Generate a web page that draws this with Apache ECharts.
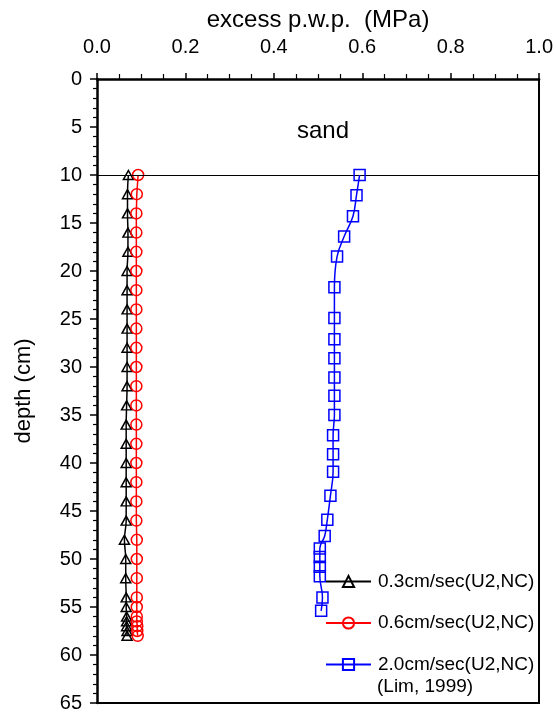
<!DOCTYPE html>
<html>
<head>
<meta charset="utf-8">
<script src="https://cdn.jsdelivr.net/npm/echarts@6/dist/echarts.min.js"></script>
<style>html,body{margin:0;padding:0;background:#fff;}#c{width:556px;height:713px;}</style>
</head>
<body>
<div id="c"></div>
<script>
const xTicks = [0, 0.2, 0.4, 0.6, 0.8, 1.0];
const yTicks = [0, 5, 10, 15, 20, 25, 30, 35, 40, 45, 50, 55, 60, 65];
const seriesNames = ['0.3cm/sec(U2,NC)', '0.6cm/sec(U2,NC)', '2.0cm/sec(U2,NC)'];

const depthBlack = [10,12,14,16,18,20,22,24,26,28,30,32,34,36,38,40,42,44,46,48,50,52,54,55,56,56.5,57,57.5,58];
const pwpBlack   = [0.071,0.069,0.069,0.07,0.07,0.068,0.068,0.068,0.068,0.068,0.068,0.068,0.067,0.066,0.066,0.066,0.066,0.066,0.066,0.062,0.065,0.065,0.066,0.066,0.067,0.067,0.067,0.068,0.068];

const depthRed = [10,12,14,16,18,20,22,24,26,28,30,32,34,36,38,40,42,44,46,48,50,52,54,55,56,56.5,57,57.5,58];
const pwpRed   = [0.093,0.09,0.089,0.089,0.089,0.089,0.089,0.089,0.089,0.089,0.089,0.089,0.089,0.089,0.089,0.089,0.089,0.089,0.089,0.09,0.09,0.09,0.09,0.09,0.09,0.09,0.091,0.091,0.092];

const depthBlue = [10,12.1,14.3,16.4,18.5,21.7,24.9,27.1,29.1,31.1,33,35,37.1,39.1,40.9,43.4,45.9,47.6,48.9,49.8,50.8,51.8,54,55.4];
const pwpBlue   = [0.594,0.587,0.579,0.559,0.543,0.537,0.537,0.537,0.537,0.537,0.537,0.537,0.534,0.534,0.534,0.528,0.521,0.515,0.504,0.504,0.504,0.504,0.51,0.507];

const zip = (xs, ys) => xs.map((x, i) => [x, ys[i]]);
const FONT = "'Liberation Sans', Arial, sans-serif";

const chart = echarts.init(document.getElementById('c'), null, {renderer: 'canvas'});
chart.setOption({
  animation: false,
  backgroundColor: '#fff',
  textStyle: {fontFamily: FONT, color: '#000'},
  grid: {left: 97, right: 13, top: 79, bottom: 10, containLabel: false},
  title: {
    text: 'sand', left: 292, top: 114,
    textStyle: {fontFamily: FONT, fontSize: 24, fontWeight: 'normal', color: '#000'}
  },
  xAxis: [{
    type: 'value', position: 'top', min: 0, max: 1, interval: 0.2,
    name: 'excess p.w.p.  (MPa)', nameLocation: 'middle', nameGap: 46,
    nameTextStyle: {fontFamily: FONT, fontSize: 24, color: '#000'},
    axisLine: {show: true, onZero: false, lineStyle: {color: '#000', width: 2.5}},
    axisTick: {show: true, inside: false, length: 6, lineStyle: {color: '#000', width: 1.5}},
    minorTick: {show: true, splitNumber: 4, length: 5, lineStyle: {color: '#000', width: 1.2}},
    axisLabel: {fontFamily: FONT, fontSize: 20, color: '#000', margin: 22,
      formatter: v => xTicks.includes(+v.toFixed(1)) ? v.toFixed(1) : ''},
    splitLine: {show: false}
  }, {
    type: 'value', position: 'bottom', min: 0, max: 1,
    axisLine: {show: true, onZero: false, lineStyle: {color: '#000', width: 2}},
    axisTick: {show: false}, axisLabel: {show: false}, splitLine: {show: false}
  }],
  yAxis: [{
    type: 'value', inverse: true, min: 0, max: 65, interval: 5, position: 'left',
    name: 'depth (cm)', nameLocation: 'middle', nameGap: 62, nameRotate: 90,
    nameTextStyle: {fontFamily: FONT, fontSize: 22, color: '#000'},
    axisLine: {show: true, onZero: false, lineStyle: {color: '#000', width: 2.5}},
    axisTick: {show: true, inside: false, length: 7, lineStyle: {color: '#000', width: 1.5}},
    minorTick: {show: true, splitNumber: 5, length: 4, lineStyle: {color: '#000', width: 1.2}},
    axisLabel: {fontFamily: FONT, fontSize: 20, color: '#000', margin: 15,
      formatter: v => yTicks.includes(v) ? String(v) : ''},
    splitLine: {show: false}
  }, {
    type: 'value', inverse: true, min: 0, max: 65, position: 'right',
    axisLine: {show: true, onZero: false, lineStyle: {color: '#000', width: 2}},
    axisTick: {show: false}, axisLabel: {show: false}, splitLine: {show: false}
  }],
  legend: {
    orient: 'vertical', left: 325, top: 572, padding: 0,
    itemWidth: 45, itemHeight: 14, itemGap: 22.5,
    textStyle: {fontFamily: FONT, fontSize: 19, color: '#000', padding: [0, 0, 0, 2]},
    data: seriesNames
  },
  graphic: [{
    type: 'text', left: 377, top: 677,
    style: {text: '(Lim, 1999)', font: "19px 'Liberation Sans', Arial, sans-serif", fill: '#000'}
  }],
  series: [{
    name: seriesNames[0], type: 'line', smooth: 0.4,
    data: zip(pwpBlack, depthBlack),
    symbol: 'triangle', symbolSize: [10, 9],
    lineStyle: {color: '#000', width: 1.5},
    itemStyle: {color: 'rgba(255,255,255,0)', borderColor: '#000', borderWidth: 1.5},
    markLine: {
      silent: true, symbol: 'none', label: {show: false},
      lineStyle: {color: '#000', width: 1, type: 'solid'},
      data: [{yAxis: 10}]
    },
    z: 3
  }, {
    name: seriesNames[1], type: 'line', smooth: false,
    data: zip(pwpRed, depthRed),
    symbol: 'circle', symbolSize: 11,
    lineStyle: {color: '#ff0000', width: 1.5},
    itemStyle: {color: 'rgba(255,255,255,0)', borderColor: '#ff0000', borderWidth: 1.5},
    z: 4
  }, {
    name: seriesNames[2], type: 'line', smooth: 0.4,
    data: zip(pwpBlue, depthBlue),
    symbol: 'rect', symbolSize: 11,
    lineStyle: {color: '#0000ff', width: 1.5},
    itemStyle: {color: 'rgba(255,255,255,0)', borderColor: '#0000ff', borderWidth: 1.5},
    z: 5
  }]
});
</script>
</body>
</html>
